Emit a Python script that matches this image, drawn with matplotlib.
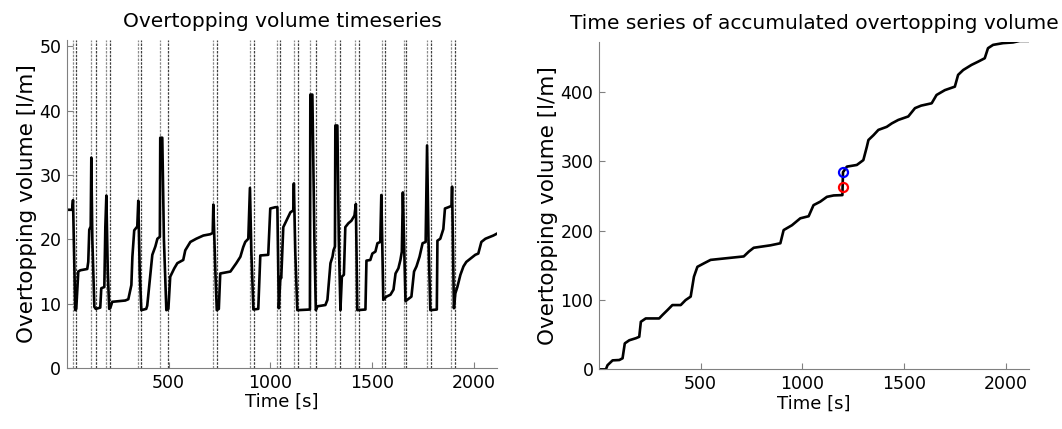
import matplotlib as mpl
mpl.use('Agg')
import matplotlib.pyplot as plt

plt.rcParams['font.family'] = ['DejaVu Sans']

# overtopping volume in tank (left panel)
ovt_t = [0, 26, 30, 41, 46, 51, 56, 66, 100, 105, 110, 117, 120, 125, 135, 142,
         164, 169, 184, 189, 194, 201, 208, 213, 223, 287, 302, 317, 322, 331,
         346, 351, 358, 366, 390, 395, 410, 420, 435, 445, 457, 459, 469, 477,
         489, 499, 508, 528, 543, 572, 582, 607, 636, 671, 705, 717, 720, 730,
         737, 747, 754, 804, 833, 853, 867, 877, 892, 900, 907, 917, 941, 951,
         990, 1000, 1025, 1035, 1042, 1050, 1054, 1064, 1079, 1099, 1113, 1116,
         1123, 1133, 1195, 1197, 1207, 1217, 1224, 1232, 1271, 1281, 1296, 1306,
         1311, 1318, 1320, 1330, 1337, 1345, 1352, 1362, 1369, 1384, 1399, 1414,
         1421, 1428, 1468, 1473, 1492, 1502, 1517, 1527, 1541, 1546, 1556, 1571,
         1591, 1606, 1616, 1630, 1640, 1647, 1652, 1665, 1694, 1707, 1719, 1734,
         1749, 1764, 1771, 1778, 1787, 1819, 1822, 1836, 1851, 1859, 1876, 1891,
         1894, 1903, 1910, 1920, 1935, 1950, 1964, 1984, 2008, 2023, 2038, 2058,
         2082, 2097, 2115]
ovt_v = [24.6, 24.6, 26.1, 9.0, 9.2, 12.0, 15.0, 15.2, 15.4, 16.5, 21.5, 22.0, 32.7, 20.0, 9.5, 9.2,
         9.4, 12.4, 12.6, 22.0, 26.8, 15.0, 9.2, 9.3, 10.3, 10.5, 10.7, 12.9, 17.3, 21.4,
         22.0, 26.0, 15.0, 9.0, 9.2, 9.7, 14.5, 17.6, 18.9, 20.1, 20.4, 35.8, 35.8, 20.0,
         9.0, 9.2, 14.2, 15.5, 16.3, 16.8, 18.3, 19.6, 20.1, 20.6, 20.8, 21.0, 25.4, 15.0,
         9.0, 9.2, 14.7, 15.0, 16.3, 17.3, 18.8, 19.6, 20.1, 28.0, 18.0, 9.1, 9.2, 17.5,
         17.6, 24.8, 25.0, 25.0, 9.3, 14.2, 14.0, 21.9, 22.9, 24.2, 24.5, 28.7,
         18.0, 9.0, 9.1, 42.5, 42.5, 20.0, 9.0, 9.6, 9.8, 10.6, 16.3, 17.3,
         18.3, 18.9, 37.7, 37.7, 20.0, 9.0, 14.2, 14.5, 21.9, 22.5, 22.9, 23.7,
         25.5, 9.0, 9.1, 16.7, 16.8, 17.8, 18.1, 19.4, 19.6, 26.9, 10.6, 11.1,
         11.4, 12.2, 14.7, 15.5, 16.8, 18.1, 27.3, 10.4, 11.1, 15.0, 15.8, 17.3,
         19.4, 19.6, 34.6, 20.0, 9.0, 9.1, 19.8, 20.1, 21.6, 24.8, 25.0, 25.2,
         28.2, 9.3, 11.6, 12.6, 14.5, 15.8, 16.5, 17.0, 17.6, 17.8, 19.6, 20.1,
         20.4, 20.6, 20.9]

# pump events (start / end)
event_start = [30, 118, 194, 349, 459, 720, 898, 1033, 1115, 1197, 1320, 1418, 1550, 1656, 1771, 1891]
event_end = [46, 144, 213, 362, 495, 738, 918, 1046, 1135, 1223, 1345, 1435, 1562, 1669, 1792, 1910]

# accumulated overtopping volume (right panel)
cum_t = [0, 34, 42, 67, 100, 116, 127, 149, 182, 198, 206, 230, 296, 312, 337, 361,
         402, 426, 451, 467, 484, 516, 549, 614, 712, 737, 761, 843, 892, 908,
         949, 990, 1031, 1055, 1088, 1121, 1154, 1197, 1200, 1219, 1268, 1300,
         1317, 1325, 1350, 1374, 1415, 1440, 1472, 1521, 1554, 1584, 1636, 1660,
         1701, 1750, 1766, 1791, 1832, 1864, 1897, 1913, 1938, 1987, 2036, 2069, 2115]
cum_v = [0, 0, 6, 13, 13.5, 16, 37.5, 42, 45, 47, 68.7, 73.5, 73.5, 78.4, 85.6, 92.8,
         92.8, 100, 105, 133.7, 148, 153, 158, 160, 163, 170, 175.5, 179, 182, 201,
         208, 218, 221, 237, 242, 249, 251, 251.5, 284.5, 292.6, 295, 302,
         321, 331, 338, 345.6, 350, 355, 360, 365, 377, 380.6, 384, 396,
         403, 408, 425, 432, 439.4, 444, 449, 463.5, 468.3, 470.8, 471.8, 474, 474]

before_t, before_v = 1200, 263.7
after_t, after_v = 1200, 284.5

fig = plt.figure(figsize=(10.62, 4.29), dpi=100)
ax1 = fig.add_axes([0.063, 0.142, 0.405, 0.765])
ax2 = fig.add_axes([0.564, 0.139, 0.405, 0.764])

grey = '#808080'

for ts, te in zip(event_start, event_end):
    ax1.axvline(ts, color='0.55', linestyle=(0, (2, 1)), linewidth=0.9)
    ax1.axvline(te, color='0.25', linestyle=(0, (2, 1)), linewidth=0.9)
ax1.plot(ovt_t, ovt_v, color='k', linewidth=1.9)
ax1.set_xlim(0, 2115)
ax1.set_ylim(0, 51)
ax1.set_yticks([0, 10, 20, 30, 40, 50])
ax1.set_xticks([500, 1000, 1500, 2000])
ax1.set_title('Overtopping volume timeseries', fontsize=14.5, pad=9)
ax1.set_xlabel('Time [s]', fontsize=13, labelpad=1)
ax1.set_ylabel('Overtopping volume [l/m]', fontsize=15.5, labelpad=2)

ax2.plot(cum_t, cum_v, color='k', linewidth=1.9)
ax2.plot(before_t, before_v, 'o', mfc='none', mec='red', mew=1.6, ms=6.5)
ax2.plot(after_t, after_v, 'o', mfc='none', mec='blue', mew=1.6, ms=6.5)
ax2.set_xlim(0, 2115)
ax2.set_ylim(0, 473)
ax2.set_yticks([0, 100, 200, 300, 400])
ax2.set_xticks([500, 1000, 1500, 2000])
ax2.set_title('Time series of accumulated overtopping volume', fontsize=14.5, pad=9)
ax2.set_xlabel('Time [s]', fontsize=13, labelpad=1)
ax2.set_ylabel('Overtopping volume [l/m]', fontsize=15.5, labelpad=2)

for ax in (ax1, ax2):
    ax.spines['top'].set_visible(False)
    ax.spines['right'].set_visible(False)
    ax.spines['left'].set_color(grey)
    ax.spines['bottom'].set_color(grey)
    ax.tick_params(direction='in', length=4, color=grey, labelsize=12.5, pad=4)

plt.savefig('out.png', dpi=100)
